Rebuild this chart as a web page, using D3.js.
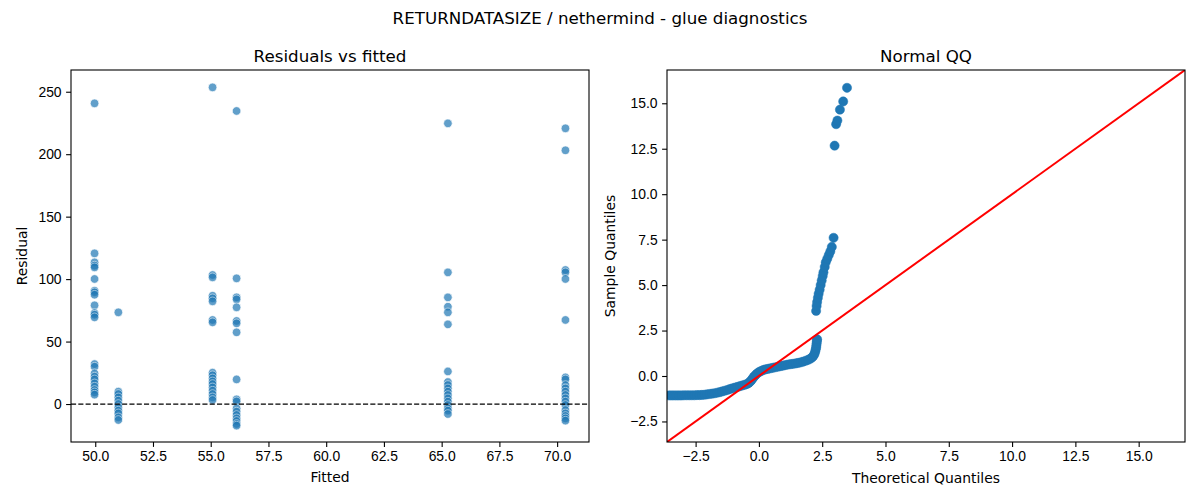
<!DOCTYPE html>
<html>
<head>
<meta charset="utf-8">
<script src="https://cdn.jsdelivr.net/npm/d3@7"></script>
<style>
  body { margin: 0; background: #fff; }
  svg { font-family: "DejaVu Sans", sans-serif; }
  .tick text { font-size: 13.9px; fill: #000; }
  .tick line { stroke: #000; stroke-width: 1.1; }
  .domain { display: none; }
</style>
</head>
<body>
<svg id="chart" width="1200" height="500"></svg>
<script>
// ---------- data: residuals vs fitted ----------
const fittedValues = [49.97, 51.0, 55.08, 56.12, 65.27, 70.36];
const residuals50 = [240.7, 120.6, 113.4, 110.8, 109.4, 100.1, 90.7, 89.4, 87.5, 79.0, 72.9, 71.5, 69.4,
  32.0, 29.9, 24.5, 21.9, 19.7, 16.5, 13.9, 11.2, 9.3, 7.5];
const residuals51 = [73.4, 9.9, 8.0, 5.3, 2.7, 0.0, -2.7, -5.3, -7.5, -10.7, -12.8];
const residuals55 = [253.5, 103.3, 101.4, 86.7, 84.6, 82.2, 67.3, 65.4,
  25.1, 23.0, 20.5, 18.1, 16.0, 13.3, 10.7, 8.0, 5.3, 3.2];
const residuals56 = [234.6, 100.6, 85.4, 83.8, 77.4, 66.5, 64.6, 57.4, 19.7,
  3.7, 2.1, -3.5, -6.1, -8.8, -11.5, -13.6, -16.0, -17.3];
const residuals65 = [224.7, 105.4, 85.4, 77.9, 73.4, 63.8, 26.1, 17.6, 15.2, 12.5, 9.9, 7.2, 4.5, 1.9,
  -0.8, -3.5, -5.3, -8.0];
const residuals70 = [220.7, 203.1, 107.3, 105.4, 100.1, 67.3, 21.3, 19.7, 15.2, 12.5, 9.9, 7.2, 4.5, 1.9,
  -0.8, -4.8, -7.5, -9.6, -11.5, -13.3];
const residualGroups = [residuals50, residuals51, residuals55, residuals56, residuals65, residuals70];

const leftXTicks = [50, 52.5, 55, 57.5, 60, 62.5, 65, 67.5, 70];
const leftYTicks = [0, 50, 100, 150, 200, 250];

// ---------- data: normal QQ ----------
const qqTheoretical = [-3.55,-3.45,-3.35,-3.25,-3.15,-3.05,-2.95,-2.85,-2.75,-2.65,-2.55,-2.45,-2.35,-2.25,-2.15,
  -2.05,-1.95,-1.85,-1.75,-1.65,-1.55,-1.45,-1.35,-1.25,-1.15,-1.05,-0.95,-0.85,-0.75,-0.65,-0.55,-0.47,-0.40,
  -0.34,-0.29,-0.24,-0.19,-0.13,-0.07,0.00,0.08,0.16,0.25,0.35,0.45,0.55,0.65,0.75,0.85,0.95,1.05,1.15,1.25,
  1.35,1.45,1.55,1.65,1.75,1.85,1.95,2.03,2.10,2.15,2.19,2.22,2.24,2.26,2.27,2.28,2.29,2.30,
  2.26,2.28,2.30,2.33,2.36,2.40,2.44,2.48,2.52,2.55,2.60,2.64,2.70,2.76,2.82,2.88,2.95,
  2.99,3.05,3.10,3.20,3.33,3.48];
const qqSample = [-1.07,-1.07,-1.07,-1.07,-1.07,-1.07,-1.06,-1.06,-1.06,-1.06,-1.06,-1.05,-1.05,-1.04,-1.03,
  -1.01,-0.99,-0.97,-0.95,-0.92,-0.89,-0.85,-0.81,-0.77,-0.72,-0.68,-0.64,-0.60,-0.56,-0.52,-0.48,-0.44,-0.38,
  -0.30,-0.22,-0.12,-0.03,0.06,0.14,0.21,0.27,0.32,0.36,0.39,0.42,0.45,0.48,0.51,0.54,0.57,0.60,0.63,0.65,
  0.67,0.69,0.72,0.75,0.79,0.84,0.89,0.95,1.02,1.10,1.20,1.32,1.44,1.56,1.68,1.80,1.92,2.02,
  3.58,3.85,4.07,4.30,4.52,4.75,5.00,5.25,5.50,5.70,6.00,6.25,6.45,6.65,6.85,7.10,7.60,
  12.67,13.85,14.05,14.65,15.10,15.85];
const qqLimits = [-3.63, 16.83];
const qqTicks = [-2.5, 0, 2.5, 5, 7.5, 10, 12.5, 15];

// ---------- drawing ----------
const svg = d3.select("#chart");
const blue = "#1f77b4";

svg.append("text").attr("x", 600).attr("y", 24).attr("text-anchor", "middle")
  .attr("font-size", "16.7px").text("RETURNDATASIZE / nethermind - glue diagnostics");

function frame(g, x0, y0, w, h) {
  g.append("rect").attr("x", x0).attr("y", y0).attr("width", w).attr("height", h)
    .attr("fill", "none").attr("stroke", "#000").attr("stroke-width", 1.1);
}

// Left panel
{
  const L = {x: 71, y: 70, w: 518, h: 372};
  const x = d3.scaleLinear().domain([48.95, 71.38]).range([L.x, L.x + L.w]);
  const y = d3.scaleLinear().domain([-30.4, 267.4]).range([L.y + L.h, L.y]);
  const g = svg.append("g");
  const clipId = "clipL";
  svg.append("clipPath").attr("id", clipId).append("rect")
    .attr("x", L.x).attr("y", L.y).attr("width", L.w).attr("height", L.h);

  const pts = [];
  residualGroups.forEach((arr, i) => arr.forEach(v => pts.push([fittedValues[i], v])));
  g.append("g").attr("clip-path", `url(#${clipId})`).selectAll("circle").data(pts).join("circle")
    .attr("cx", d => x(d[0])).attr("cy", d => y(d[1])).attr("r", 4.3)
    .attr("fill", blue).attr("stroke", "#fff").attr("stroke-width", 0.7).attr("opacity", 0.7);

  g.append("line").attr("x1", L.x).attr("x2", L.x + L.w).attr("y1", y(0)).attr("y2", y(0))
    .attr("stroke", "#000").attr("stroke-width", 1.3).attr("stroke-dasharray", "5.1,2.2");

  g.append("g").attr("transform", `translate(0,${L.y + L.h})`)
    .call(d3.axisBottom(x).tickValues(leftXTicks).tickFormat(d3.format(".1f")).tickSize(4.9).tickPadding(4.5));
  g.append("g").attr("transform", `translate(${L.x},0)`)
    .call(d3.axisLeft(y).tickValues(leftYTicks).tickFormat(d3.format("d")).tickSize(4.9).tickPadding(4.5));
  frame(g, L.x, L.y, L.w, L.h);

  g.append("text").attr("x", L.x + L.w / 2).attr("y", 62).attr("text-anchor", "middle")
    .attr("font-size", "16.7px").text("Residuals vs fitted");
  g.append("text").attr("x", L.x + L.w / 2).attr("y", 482).attr("text-anchor", "middle")
    .attr("font-size", "13.9px").text("Fitted");
  g.append("text").attr("transform", `translate(27,${L.y + L.h / 2}) rotate(-90)`).attr("text-anchor", "middle")
    .attr("font-size", "13.9px").text("Residual");
}

// Right panel
{
  const R = {x: 667, y: 70, w: 518, h: 372};
  const x = d3.scaleLinear().domain(qqLimits).range([R.x, R.x + R.w]);
  const y = d3.scaleLinear().domain(qqLimits).range([R.y + R.h, R.y]);
  const g = svg.append("g");
  const clipId = "clipR";
  svg.append("clipPath").attr("id", clipId).append("rect")
    .attr("x", R.x).attr("y", R.y).attr("width", R.w).attr("height", R.h);
  const inner = g.append("g").attr("clip-path", `url(#${clipId})`);

  const pts = qqTheoretical.map((t, i) => [t, qqSample[i]]);
  inner.selectAll("circle").data(pts).join("circle")
    .attr("cx", d => x(d[0])).attr("cy", d => y(d[1])).attr("r", 4.6)
    .attr("fill", blue).attr("stroke", blue).attr("stroke-width", 0.5);

  inner.append("line").attr("x1", x(qqLimits[0])).attr("y1", y(qqLimits[0]))
    .attr("x2", x(qqLimits[1])).attr("y2", y(qqLimits[1]))
    .attr("stroke", "red").attr("stroke-width", 2);

  g.append("g").attr("transform", `translate(0,${R.y + R.h})`)
    .call(d3.axisBottom(x).tickValues(qqTicks).tickFormat(d3.format(".1f")).tickSize(4.9).tickPadding(4.5));
  g.append("g").attr("transform", `translate(${R.x},0)`)
    .call(d3.axisLeft(y).tickValues(qqTicks).tickFormat(d3.format(".1f")).tickSize(4.9).tickPadding(4.5));
  frame(g, R.x, R.y, R.w, R.h);

  g.append("text").attr("x", R.x + R.w / 2).attr("y", 62).attr("text-anchor", "middle")
    .attr("font-size", "16.7px").text("Normal QQ");
  g.append("text").attr("x", R.x + R.w / 2).attr("y", 483).attr("text-anchor", "middle")
    .attr("font-size", "13.9px").text("Theoretical Quantiles");
  g.append("text").attr("transform", `translate(615,${R.y + R.h / 2}) rotate(-90)`).attr("text-anchor", "middle")
    .attr("font-size", "13.9px").text("Sample Quantiles");
}
</script>
</body>
</html>
